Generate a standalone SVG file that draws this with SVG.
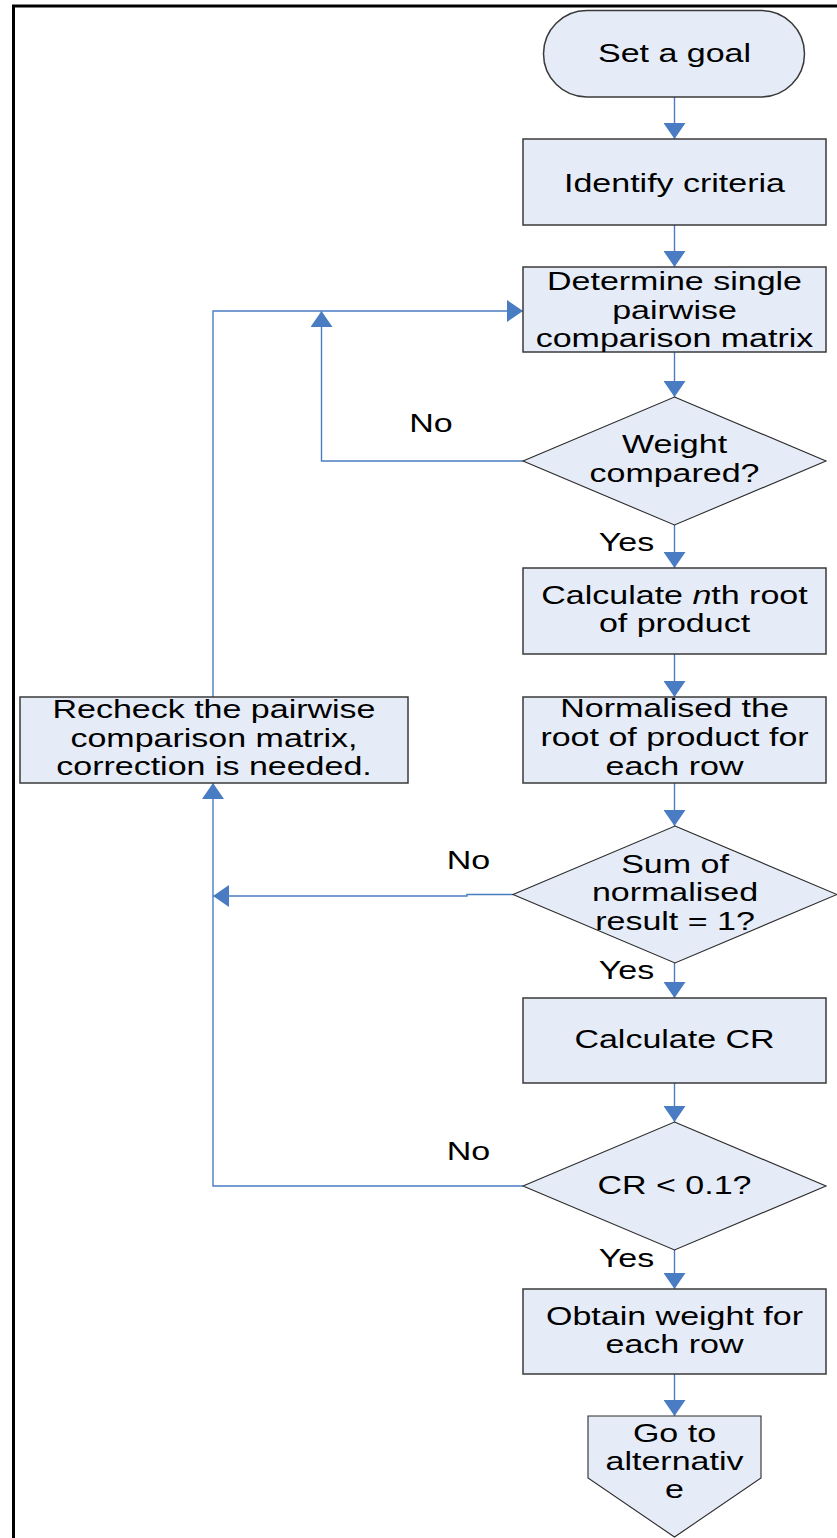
<svg xmlns="http://www.w3.org/2000/svg" width="837" height="1538" viewBox="0 0 837 1538">
<style>
.n{fill:#e6ecf7;stroke:#3a3a3a;stroke-width:1.5}
.d{fill:#e6ecf7;stroke:#2a2a2a;stroke-width:1.1}
.t{font-family:"Liberation Sans",Arial,sans-serif;font-size:25px;fill:#000;text-anchor:middle}
.c{fill:none;stroke:#4a7cc4;stroke-width:1.4}
</style>
<defs>
<marker id="ah" viewBox="0 0 16 22" refX="16" refY="11" markerWidth="16" markerHeight="22" orient="auto" markerUnits="userSpaceOnUse">
<path d="M0,0 L16,11 L0,22 Z" fill="#4a7cc4"/>
</marker>
</defs>
<rect width="837" height="1538" fill="#fff"/>
<path d="M13.5,1538 V6 H837" fill="none" stroke="#000" stroke-width="3"/>
<g id="connectors">
<path class="c" d="M674.5,97 V139" marker-end="url(#ah)"/>
<path class="c" d="M674.5,225 V267" marker-end="url(#ah)"/>
<path class="c" d="M674.5,352 V397" marker-end="url(#ah)"/>
<path class="c" d="M674.5,525 V568" marker-end="url(#ah)"/>
<path class="c" d="M674.5,654 V697" marker-end="url(#ah)"/>
<path class="c" d="M674.5,783 V826" marker-end="url(#ah)"/>
<path class="c" d="M674.5,963 V998" marker-end="url(#ah)"/>
<path class="c" d="M674.5,1083 V1122" marker-end="url(#ah)"/>
<path class="c" d="M674.5,1250 V1289" marker-end="url(#ah)"/>
<path class="c" d="M674.5,1374 V1416" marker-end="url(#ah)"/>
<path class="c" d="M523,461 H321.5 V311" marker-end="url(#ah)"/>
<path class="c" d="M513,894.5 H467 V896 H213" marker-end="url(#ah)"/>
<path class="c" d="M523,1186 H213 V783" marker-end="url(#ah)"/>
<path class="c" d="M213,697 V311 H523" marker-end="url(#ah)"/>
<text class="t" transform="translate(431 0) scale(1.36 1)"><tspan x="0" y="432">No</tspan></text>
<text class="t" transform="translate(626.5 0) scale(1.36 1)"><tspan x="0" y="551">Yes</tspan></text>
<text class="t" transform="translate(468.5 0) scale(1.36 1)"><tspan x="0" y="869">No</tspan></text>
<text class="t" transform="translate(626.5 0) scale(1.36 1)"><tspan x="0" y="979">Yes</tspan></text>
<text class="t" transform="translate(468.5 0) scale(1.36 1)"><tspan x="0" y="1160">No</tspan></text>
<text class="t" transform="translate(626.5 0) scale(1.36 1)"><tspan x="0" y="1267">Yes</tspan></text>
</g>
<g id="goal">
<rect class="n" x="543.5" y="10.5" width="261" height="86.5" rx="43.25" ry="43.25"/>
<text class="t" transform="translate(674.5 0) scale(1.36 1)"><tspan x="0" y="62">Set a goal</tspan></text>
</g>
<g id="criteria">
<rect class="n" x="523" y="139" width="303" height="86"/>
<text class="t" transform="translate(674.5 0) scale(1.36 1)"><tspan x="0" y="192">Identify criteria</tspan></text>
</g>
<g id="matrix">
<rect class="n" x="523" y="267" width="303" height="85"/>
<text class="t" transform="translate(674.5 0) scale(1.36 1)"><tspan x="0" y="290">Determine single</tspan><tspan x="0" y="319">pairwise</tspan><tspan x="0" y="347">comparison matrix</tspan></text>
</g>
<g id="weight">
<polygon class="d" points="674.5,397 826,461 674.5,525 523,461"/>
<text class="t" transform="translate(674.5 0) scale(1.36 1)"><tspan x="0" y="453">Weight</tspan><tspan x="0" y="482">compared?</tspan></text>
</g>
<g id="nthroot">
<rect class="n" x="523" y="568" width="303" height="86"/>
<text class="t" transform="translate(674.5 0) scale(1.36 1)"><tspan x="0" y="604">Calculate <tspan font-style="italic">n</tspan>th root</tspan><tspan x="0" y="632">of product</tspan></text>
</g>
<g id="normalise">
<rect class="n" x="523" y="697" width="303" height="86"/>
<text class="t" transform="translate(674.5 0) scale(1.36 1)"><tspan x="0" y="717">Normalised the</tspan><tspan x="0" y="746">root of product for</tspan><tspan x="0" y="775">each row</tspan></text>
</g>
<g id="recheck">
<rect class="n" x="20" y="697" width="388" height="86"/>
<text class="t" transform="translate(214 0) scale(1.36 1)"><tspan x="0" y="718">Recheck the pairwise</tspan><tspan x="0" y="747">comparison matrix,</tspan><tspan x="0" y="775">correction is needed.</tspan></text>
</g>
<g id="sum">
<polygon class="d" points="675,826 837,894.5 675,963 513,894.5"/>
<text class="t" transform="translate(675 0) scale(1.36 1)"><tspan x="0" y="873">Sum of</tspan><tspan x="0" y="901">normalised</tspan><tspan x="0" y="930">result = 1?</tspan></text>
</g>
<g id="cr">
<rect class="n" x="523" y="998" width="303" height="85"/>
<text class="t" transform="translate(674.5 0) scale(1.36 1)"><tspan x="0" y="1048">Calculate CR</tspan></text>
</g>
<g id="crcheck">
<polygon class="d" points="674.5,1122 826,1186 674.5,1250 523,1186"/>
<text class="t" transform="translate(674.5 0) scale(1.36 1)"><tspan x="0" y="1194">CR &lt; 0.1?</tspan></text>
</g>
<g id="obtain">
<rect class="n" x="523" y="1289" width="303" height="85"/>
<text class="t" transform="translate(674.5 0) scale(1.36 1)"><tspan x="0" y="1325">Obtain weight for</tspan><tspan x="0" y="1353">each row</tspan></text>
</g>
<g id="goto">
<polygon class="d" points="588,1416 761,1416 761,1478 674.5,1537 588,1478"/>
<text class="t" transform="translate(674.5 0) scale(1.36 1)"><tspan x="0" y="1442">Go to</tspan><tspan x="0" y="1470">alternativ</tspan><tspan x="0" y="1498">e</tspan></text>
</g>
</svg>
